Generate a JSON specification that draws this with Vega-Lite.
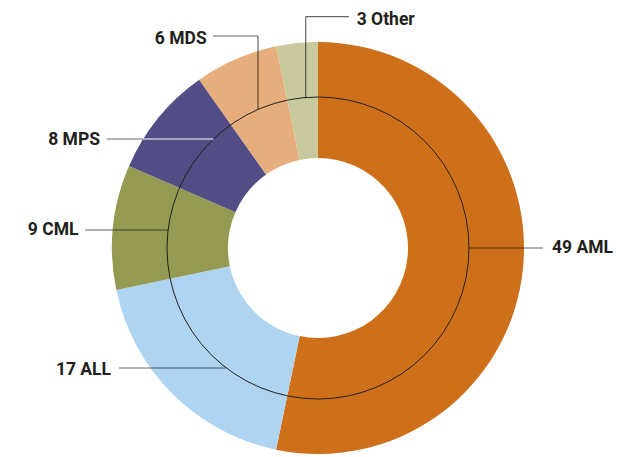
{
  "$schema": "https://vega.github.io/schema/vega-lite/v6.json",
  "width": 629,
  "height": 457,
  "padding": 0,
  "autosize": {"type": "none"},
  "background": "white",
  "config": {"view": {"stroke": null}},
  "datasets": {
    "slices": [
      {"idx": 1, "cat": "AML", "n": 49},
      {"idx": 2, "cat": "ALL", "n": 17},
      {"idx": 3, "cat": "CML", "n": 9},
      {"idx": 4, "cat": "MPS", "n": 8},
      {"idx": 5, "cat": "MDS", "n": 6},
      {"idx": 6, "cat": "Other", "n": 3}
    ],
    "labels": [
      {"label": "49 AML", "side": "left", "x": 234, "y": -4.5},
      {"label": "17 ALL", "side": "right", "x": -207, "y": -126.5},
      {"label": "9 CML", "side": "right", "x": -239.5, "y": 12.8},
      {"label": "8 MPS", "side": "right", "x": -218, "y": 102.8},
      {"label": "6 MDS", "side": "right", "x": -111.3, "y": 204.5},
      {"label": "3 Other", "side": "left", "x": 38.7, "y": 223.5}
    ],
    "leaders": [
      {"cat": "AML", "over": "dark", "x": 151, "x2": 225, "y": 0, "y2": 0},
      {"cat": "ALL", "over": "dark", "x": -199, "x2": -92, "y": -120, "y2": -120},
      {"cat": "CML", "over": "dark", "x": -233, "x2": -150, "y": 18, "y2": 18},
      {"cat": "MPS", "over": "dark", "x": -211, "x2": -175, "y": 109, "y2": 109},
      {"cat": "MPS", "over": "light", "x": -175, "x2": -104.5, "y": 109, "y2": 109},
      {"cat": "MDS", "over": "dark", "x": -105, "x2": -60, "y": 212, "y2": 212},
      {"cat": "MDS", "over": "dark", "x": -60, "x2": -60, "y": 212, "y2": 138.6},
      {"cat": "Other", "over": "dark", "x": -12.3, "x2": 31, "y": 231.3, "y2": 231.3},
      {"cat": "Other", "over": "dark", "x": -12.3, "x2": -12.3, "y": 231.3, "y2": 150.5}
    ]
  },
  "layer": [
    {
      "data": {"name": "slices"},
      "mark": {"type": "arc", "radius": 206, "radius2": 90},
      "encoding": {
        "x": {"datum": 0, "type": "quantitative", "scale": {"domain": [-318, 311], "nice": false, "zero": false}, "axis": null},
        "y": {"datum": 0, "type": "quantitative", "scale": {"domain": [-209, 248], "nice": false, "zero": false}, "axis": null},
        "theta": {"field": "n", "type": "quantitative", "stack": true},
        "order": {"field": "idx", "type": "quantitative"},
        "color": {
          "field": "cat", "type": "nominal", "legend": null,
          "scale": {
            "domain": ["AML", "ALL", "CML", "MPS", "MDS", "Other"],
            "range": ["#CE6F1A", "#AED4F1", "#949A51", "#524D85", "#E7AE7D", "#C8CA9D"]
          }
        }
      }
    },
    {
      "data": {"values": [{"ring": "circle"}]},
      "mark": {"type": "point", "shape": "circle", "size": 91204, "filled": false, "stroke": "#231F20", "strokeWidth": 1, "opacity": 1},
      "encoding": {
        "x": {"datum": 0, "type": "quantitative", "scale": {"domain": [-318, 311], "nice": false, "zero": false}, "axis": null},
        "y": {"datum": 0, "type": "quantitative", "scale": {"domain": [-209, 248], "nice": false, "zero": false}, "axis": null}
      }
    },
    {
      "data": {"name": "leaders"},
      "transform": [{"filter": "datum.over === 'dark'"}],
      "mark": {"type": "rule", "color": "black", "opacity": 0.6, "strokeWidth": 1.2},
      "encoding": {
        "x": {"field": "x", "type": "quantitative", "scale": {"domain": [-318, 311], "nice": false, "zero": false}, "axis": null},
        "x2": {"field": "x2"},
        "y": {"field": "y", "type": "quantitative", "scale": {"domain": [-209, 248], "nice": false, "zero": false}, "axis": null},
        "y2": {"field": "y2"}
      }
    },
    {
      "data": {"name": "leaders"},
      "transform": [{"filter": "datum.over === 'light'"}],
      "mark": {"type": "rule", "color": "white", "opacity": 1, "strokeWidth": 1.2},
      "encoding": {
        "x": {"field": "x", "type": "quantitative", "scale": {"domain": [-318, 311], "nice": false, "zero": false}, "axis": null},
        "x2": {"field": "x2"},
        "y": {"field": "y", "type": "quantitative", "scale": {"domain": [-209, 248], "nice": false, "zero": false}, "axis": null},
        "y2": {"field": "y2"}
      }
    },
    {
      "data": {"name": "labels"},
      "transform": [{"filter": "datum.side === 'left'"}],
      "mark": {"type": "text", "align": "left", "baseline": "alphabetic", "font": "Roboto", "fontWeight": "bold", "fontSize": 17.5, "color": "#231F20"},
      "encoding": {
        "x": {"field": "x", "type": "quantitative", "scale": {"domain": [-318, 311], "nice": false, "zero": false}, "axis": null},
        "y": {"field": "y", "type": "quantitative", "scale": {"domain": [-209, 248], "nice": false, "zero": false}, "axis": null},
        "text": {"field": "label"}
      }
    },
    {
      "data": {"name": "labels"},
      "transform": [{"filter": "datum.side === 'right'"}],
      "mark": {"type": "text", "align": "right", "baseline": "alphabetic", "font": "Roboto", "fontWeight": "bold", "fontSize": 17.5, "color": "#231F20"},
      "encoding": {
        "x": {"field": "x", "type": "quantitative", "scale": {"domain": [-318, 311], "nice": false, "zero": false}, "axis": null},
        "y": {"field": "y", "type": "quantitative", "scale": {"domain": [-209, 248], "nice": false, "zero": false}, "axis": null},
        "text": {"field": "label"}
      }
    }
  ]
}
